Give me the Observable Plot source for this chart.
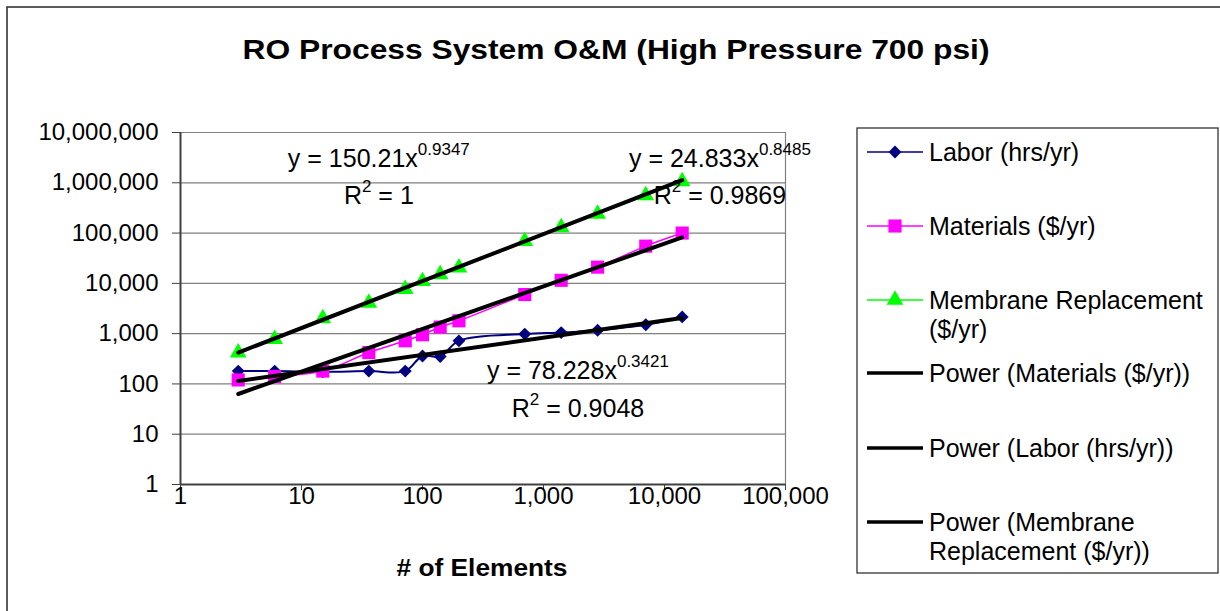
<!DOCTYPE html>
<html><head><meta charset="utf-8">
<script src="https://cdn.jsdelivr.net/npm/d3@7"></script>
<script src="https://cdn.jsdelivr.net/npm/@observablehq/plot@0.6"></script>
<style>
body{margin:0;background:#fff;}
#chart{position:relative;width:1220px;height:611px;overflow:hidden;}
</style></head><body><div id="chart"></div>
<script>
// ---- data ----
const elements  = [3, 6, 15, 36, 72, 100, 140, 200, 700, 1400, 2800, 7000, 14000];
const labor     = [180, 180, 175, 180, 180, 360, 350, 720, 980, 1050, 1170, 1500, 2150];
const materials = [120, 140, 180, 420, 720, 950, 1350, 1800, 6000, 11500, 21000, 55000, 100000];
const membrane  = [420, 780, 2000, 4100, 7700, 11000, 15000, 20500, 69000, 130000, 240000, 560000, 1070000];
const seriesNames = ["Labor (hrs/yr)", "Materials ($/yr)", "Membrane Replacement ($/yr)"];
const seriesColors = ["#000080", "#FF00FF", "#00FF00"];
const seriesSymbols = ["diamond2", "square", "triangle"];
// power trendlines y = a * x^b (as printed on the chart)
const fitCoefText = ["78.228", "24.833", "150.21"];
const fitExpText  = ["0.3421", "0.8485", "0.9347"];
const fitR2Text   = ["0.9048", "0.9869", "1"];
// equation label anchors (centre x, baselines) in data units
const eqLabelX  = [1945, 29000, 44];
const eqLabelY1 = [121, 2.04e6, 2.04e6];
const eqLabelY2 = [21.8, 370000, 370000];
const xTicks = [1, 10, 100, 1000, 10000, 100000];
const yTicks = [1, 10, 100, 1000, 10000, 100000, 1000000, 10000000];
const legendLabels = [
  ["Labor (hrs/yr)"],
  ["Materials ($/yr)"],
  ["Membrane Replacement", "($/yr)"],
  ["Power (Materials ($/yr))"],
  ["Power (Labor (hrs/yr))"],
  ["Power (Membrane", "Replacement ($/yr))"]
];
const chartTitle = "RO Process System O&M (High Pressure 700 psi)";
const xTitle = "# of Elements";

// ---- build tables ----
const seriesValues = [labor, materials, membrane];
const points = [];
seriesValues.forEach((vals, s) => elements.forEach((x, i) => points.push({x, y: vals[i], s})));
const fitLines = [];
fitCoefText.forEach((a, s) => {
  const A = +a, B = +fitExpText[s];
  [elements[0], elements[elements.length - 1]].forEach(x => fitLines.push({x, y: A * Math.pow(x, B), s}));
});
const markerR = [5.8, 7.4, 6.2];
const FONT = "'Liberation Sans', Arial, sans-serif";

const marks = [
  Plot.ruleY(yTicks.slice(1), {stroke: "#808080", strokeWidth: 1.2}),
  Plot.ruleX([xTicks[xTicks.length - 1]], {stroke: "#808080", strokeWidth: 1.2}),
  Plot.axisY({ticks: yTicks, tickFormat: d3.format(","), tickSize: 8, tickPadding: 14, fontSize: 24, label: null, stroke: "#404040"}),
  Plot.axisX({ticks: xTicks, tickFormat: d3.format(","), tickSize: 6, tickPadding: -4, fontSize: 24, label: null, stroke: "#404040"}),
  Plot.ruleY([yTicks[0]], {stroke: "#404040", strokeWidth: 2}),
  Plot.ruleX([xTicks[0]], {stroke: "#404040", strokeWidth: 2}),
];
[0, 1, 2].forEach(s => {
  const d = points.filter(p => p.s === s);
  marks.push(Plot.line(d, {x: "x", y: "y", stroke: seriesColors[s], strokeWidth: s === 0 ? 2 : 1.6, curve: "catmull-rom"}));
  marks.push(Plot.dot(d, {x: "x", y: "y", symbol: () => seriesSymbols[s], fill: seriesColors[s], r: markerR[s], stroke: "none"}));
});
[1, 0, 2].forEach(s => {
  marks.push(Plot.line(fitLines.filter(p => p.s === s), {x: "x", y: "y", stroke: "#000", strokeWidth: 4, strokeLinecap: "round"}));
});

const plot = Plot.plot({
  width: 1220, height: 611,
  marginLeft: 180, marginRight: 435, marginTop: 132, marginBottom: 127,
  x: {type: "log", domain: [xTicks[0], xTicks[xTicks.length - 1]]},
  y: {type: "log", domain: [yTicks[0], yTicks[yTicks.length - 1]]},
  symbol: {type: "identity"},
  style: {fontFamily: FONT, fontSize: "24px", color: "#000", background: "#fff", overflow: "visible"},
  marks
});
document.getElementById("chart").appendChild(plot);

const svg = d3.select(plot);
const sx = plot.scale("x"), sy = plot.scale("y");

// chart-area border
svg.insert("rect", ":first-child").attr("x", 7).attr("y", 7).attr("width", 1230).attr("height", 620)
  .attr("fill", "none").attr("stroke", "#333").attr("stroke-width", 1.6);

// title
svg.append("text").attr("x", 616).attr("y", 59).attr("text-anchor", "middle")
  .attr("font-family", FONT).attr("font-weight", "bold").attr("font-size", 28)
  .attr("textLength", 747).attr("lengthAdjust", "spacingAndGlyphs").text(chartTitle);
// x title
svg.append("text").attr("x", 482).attr("y", 576).attr("text-anchor", "middle")
  .attr("font-family", FONT).attr("font-weight", "bold").attr("font-size", 24)
  .attr("textLength", 171).attr("lengthAdjust", "spacingAndGlyphs").text(xTitle);

// equation labels
[0, 1, 2].forEach(s => {
  const cx = sx.apply(eqLabelX[s]);
  const t1 = svg.append("text").attr("x", cx).attr("y", sy.apply(eqLabelY1[s])).attr("text-anchor", "middle")
    .attr("font-family", FONT).attr("font-size", 25);
  t1.append("tspan").text("y = " + fitCoefText[s] + "x");
  t1.append("tspan").attr("dy", -12).attr("font-size", 17).text(fitExpText[s]);
  const t2 = svg.append("text").attr("x", cx).attr("y", sy.apply(eqLabelY2[s])).attr("text-anchor", "middle")
    .attr("font-family", FONT).attr("font-size", 25);
  t2.append("tspan").text("R");
  t2.append("tspan").attr("dy", -12).attr("font-size", 17).text("2");
  t2.append("tspan").attr("dy", 12).text(" = " + fitR2Text[s]);
});

// legend
const lg = svg.append("g").attr("text-anchor", "start");
lg.append("rect").attr("x", 857).attr("y", 128).attr("width", 361).attr("height", 445)
  .attr("fill", "#fff").attr("stroke", "#333").attr("stroke-width", 1.3);
const legendY = [152, 226, 300, 373, 448, 522];
const legendColor = [seriesColors[0], seriesColors[1], seriesColors[2], "#000", "#000", "#000"];
const symTypes = {diamond2: d3.symbolDiamond2, square: d3.symbolSquare, triangle: d3.symbolTriangle};
legendLabels.forEach((lines, i) => {
  const y = legendY[i];
  lg.append("line").attr("x1", 867).attr("x2", 923).attr("y1", y).attr("y2", y)
    .attr("stroke", legendColor[i]).attr("stroke-width", i < 3 ? 1.6 : 3.5);
  if (i < 3) {
    lg.append("path").attr("transform", `translate(895,${y})`)
      .attr("d", d3.symbol(symTypes[seriesSymbols[i]], Math.PI * markerR[i] * markerR[i])())
      .attr("fill", seriesColors[i]);
  }
  lines.forEach((ln, j) => {
    lg.append("text").attr("x", 929).attr("y", y + 9 + j * 29).attr("text-anchor", "start")
      .attr("font-family", FONT).attr("font-size", 25).text(ln);
  });
});
</script></body></html>
